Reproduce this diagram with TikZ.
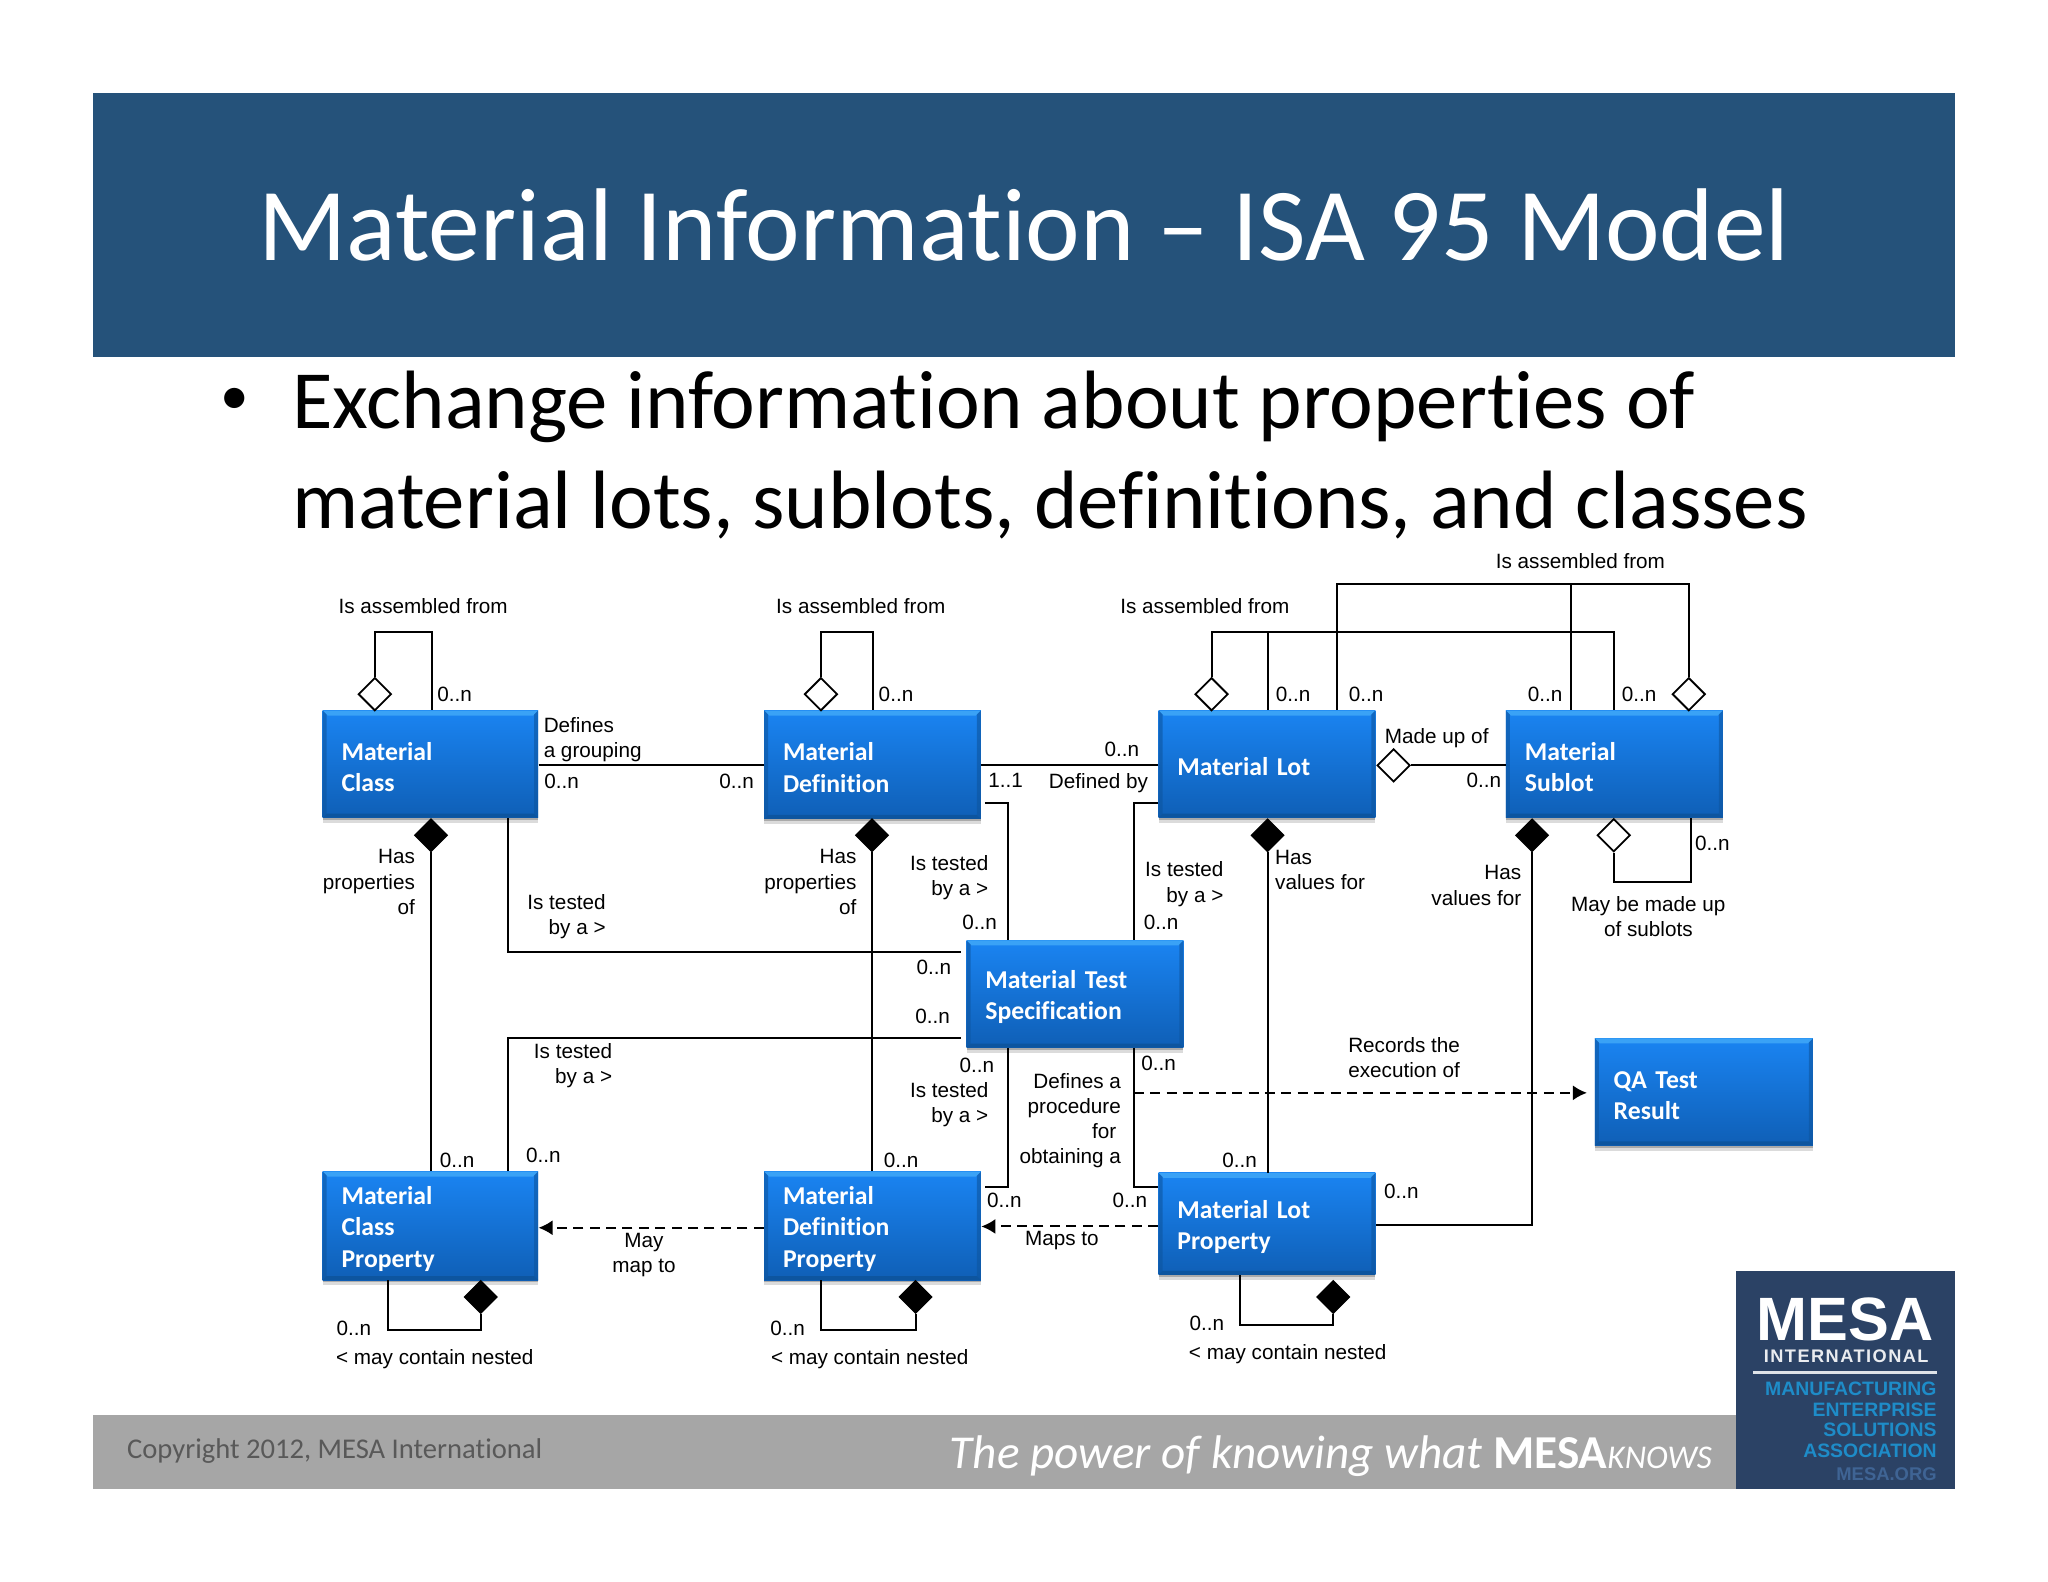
\documentclass[tikz,border=0pt]{standalone}
\usepackage{fontspec}
\setmainfont{Carlito}[Ligatures=NoCommon]
\newfontfamily\arial{Liberation Sans}
\newfontfamily\arialsp{Liberation Sans}[LetterSpace=8]
\usetikzlibrary{shapes.geometric,shadows,arrows.meta}
\definecolor{hdr}{HTML}{25527A}
\definecolor{boxtop}{HTML}{1A84F2}
\definecolor{boxbot}{HTML}{0F5FB6}
\definecolor{bevlight}{HTML}{3AA2F6}
\definecolor{bevdark}{HTML}{0D559F}
\definecolor{footgray}{HTML}{A6A6A6}
\definecolor{footdark}{HTML}{595959}
\definecolor{logobg}{HTML}{2B4265}
\definecolor{logoteal}{HTML}{1E8CC8}
\definecolor{logoblue}{HTML}{3F6494}
\tikzset{
  x=0.653pt,y=-0.653pt,
  matbox/.style n args={2}{
    minimum width={#1*0.653pt},minimum height={#2*0.653pt},
    text width={(#1-29)*0.653pt},inner xsep={14.5*0.653pt},inner ysep=0pt,
    align=left,text=white,font=\fontsize{12.85}{15.7}\selectfont\bfseries,
    execute at begin node={\rule{0pt}{12pt}},
    top color=boxtop,bottom color=boxbot,
    drop shadow={shadow xshift=0pt,shadow yshift=-1.2pt,opacity=0.22,fill=black},
    drop shadow={shadow xshift=0pt,shadow yshift=-2.6pt,opacity=0.14,fill=black},
    path picture={
      \fill[bevlight] (path picture bounding box.north west)--(path picture bounding box.north east)
        --([xshift=-2.5pt,yshift=-2.5pt]path picture bounding box.north east)
        --([xshift=2.5pt,yshift=-2.5pt]path picture bounding box.north west)--cycle;
      \fill[bevdark] (path picture bounding box.south west)--(path picture bounding box.south east)
        --([xshift=-2pt,yshift=2pt]path picture bounding box.south east)
        --([xshift=2pt,yshift=2pt]path picture bounding box.south west)--cycle;
      \fill[bevdark,opacity=0.6] (path picture bounding box.south west)--(path picture bounding box.north west)
        --([xshift=2pt,yshift=-2pt]path picture bounding box.north west)
        --([xshift=2pt,yshift=2pt]path picture bounding box.south west)--cycle;
      \fill[bevdark,opacity=0.6] (path picture bounding box.south east)--(path picture bounding box.north east)
        --([xshift=-2pt,yshift=-2pt]path picture bounding box.north east)
        --([xshift=-2pt,yshift=2pt]path picture bounding box.south east)--cycle;
    }},
  lab/.style={font=\fontsize{10.35}{12.6}\selectfont\arial,inner sep=0pt,text=black,align=center,yshift=-0.25pt},
  labr/.style={lab,align=right,anchor=east},
  labl/.style={lab,align=left,anchor=west},
  conn/.style={draw=black,line width=1pt},
  dashconn/.style={conn,dash pattern=on 5pt off 3.2pt,-{Latex[length=7pt,width=7.5pt]}},
  opend/.style={diamond,aspect=1,draw=black,fill=white,line width=0.9pt,minimum width=16.5pt,minimum height=16.5pt,inner sep=0pt},
  filld/.style={diamond,aspect=1,draw=black,fill=black,line width=0.6pt,minimum width=16.5pt,minimum height=16.5pt,inner sep=0pt},
}
\begin{document}
\begin{tikzpicture}
\useasboundingbox (0,0) rectangle (1568,1211.2);
\fill[white] (0,0) rectangle (1568,1211.2);
% header
\node[fill=hdr,minimum width={1426*0.653pt},minimum height={202*0.653pt},inner sep=0pt] (hdrbar) at (784,172) {};
\node[text=white,font=\fontsize{51.7}{60}\selectfont,inner sep=0pt] (title) at (784,172.5) {Material Information – ISA 95 Model};
% bullet
\node[font=\fontsize{28.6}{32}\selectfont,inner sep=0pt,anchor=base] (bul) at (180,317.5) {•};
\node[font=\fontsize{41.4}{50}\selectfont,inner sep=0pt,anchor=base west] (line1) at (223.3,328) {Exchange information about properties of};
\node[font=\fontsize{41.4}{50}\selectfont,inner sep=0pt,anchor=base west] (line2) at (223.3,404.5) {material lots, sublots, definitions, and classes};
% footer
\node[fill=footgray,minimum width={1258*0.653pt},minimum height={57*0.653pt},inner sep=0pt] (footbar) at (700,1111.5) {};
\node[text=footdark,font=\fontsize{14.3}{16}\selectfont,inner sep=0pt,anchor=west] (copy) at (97,1111) {Copyright 2012, MESA International};
\node[text=white,font=\fontsize{23.6}{26}\selectfont\itshape,inner sep=0pt,anchor=east] (tag) at (1311,1114.5) {The power of knowing what {\upshape\bfseries MESA}{\fontsize{16.6}{18}\selectfont KNOWS}};
% logo
\node[fill=logobg,minimum width={168*0.653pt},minimum height={167*0.653pt},inner sep=0pt] (logo) at (1413,1056.5) {};
\node[text=white,font=\fontsize{30.6}{32}\selectfont\arial\bfseries,inner sep=0pt] (lmesa) at (1412.5,1010.5) {MESA};
\node[text=white!90!logobg,font=\fontsize{9.1}{10}\selectfont\arialsp\bfseries,inner sep=0pt] (lint) at (1413.5,1038.6) {INTERNATIONAL};
\node[fill=white!85!logobg,minimum width={141*0.653pt},minimum height={2.5*0.653pt},inner sep=0pt] (lrule) at (1412.5,1050.8) {};
\node[text=logoteal,font=\fontsize{9.7}{11}\selectfont\arial\bfseries,inner sep=0pt,anchor=east] (lm1) at (1483,1063.6) {MANUFACTURING};
\node[text=logoteal,font=\fontsize{9.7}{11}\selectfont\arial\bfseries,inner sep=0pt,anchor=east] (lm2) at (1483,1079) {ENTERPRISE};
\node[text=logoteal,font=\fontsize{9.7}{11}\selectfont\arial\bfseries,inner sep=0pt,anchor=east] (lm3) at (1483,1095) {SOLUTIONS};
\node[text=logoteal,font=\fontsize{9.7}{11}\selectfont\arial\bfseries,inner sep=0pt,anchor=east] (lm4) at (1483,1110.8) {ASSOCIATION};
\node[text=logoblue,font=\fontsize{9.2}{11}\selectfont\arial\bfseries,inner sep=0pt,anchor=east] (lm5) at (1483,1128.7) {MESA.ORG};
% boxes
\node[matbox={165}{82}] (mc) at (329.5,585) {Material\\Class};
\node[matbox={166}{83}] (md) at (668,585.5) {Material\\Definition};
\node[matbox={166}{82}] (ml) at (970,585) {Material Lot};
\node[matbox={166}{82}] (ms) at (1236,585) {Material\\Sublot};
\node[matbox={166}{82}] (ts) at (823,761) {Material Test\\Specification};
\node[matbox={167}{82}] (qa) at (1304.5,836) {QA Test\\Result};
\node[matbox={165}{83}] (mcp) at (329.5,938.5) {Material\\Class\\Property};
\node[matbox={166}{83}] (mdp) at (668,938.5) {Material\\Definition\\Property};
\node[matbox={166}{78}] (mlp) at (970,937) {Material Lot\\Property};
% diamonds
\node[opend] (dmc) at (287,531.5) {};
\node[opend] (dmd) at (628.5,531.5) {};
\node[opend] (dml) at (927.6,531.5) {};
\node[opend] (dms) at (1293,531.5) {};
\node[opend] (dlot) at (1067,586) {};
\node[opend] (dsub) at (1235.5,639.5) {};
\node[filld] (fmc) at (330,639.5) {};
\node[filld] (fmd) at (667.6,639.5) {};
\node[filld] (fml) at (970.5,639.5) {};
\node[filld] (fms) at (1173,639.5) {};
\node[filld] (fmcp) at (368,993) {};
\node[filld] (fmdp) at (701,993) {};
\node[filld] (fmlp) at (1020.8,993) {};
% free ends
\coordinate (t1) at (736,729);
\coordinate (t2) at (736,794.5);
\coordinate (t3) at (754,615);
\coordinate (t4) at (754,908.6);
% connectors
\draw[conn] (dmc.north) |- (330.4,484) -- (mc.north -| 330.4,0);
\draw[conn] (dmd.north) |- (668.7,484) -- (md.north -| 668.7,0);
\draw[conn] (dml.north) |- (1236,484) -- (ms.north -| 1236,0);
\draw[conn] (971,484) -- (ml.north -| 971,0);
\draw[conn] (dms.north) |- (1023.7,447.5) -- (ml.north -| 1023.7,0);
\draw[conn] (1203,447.5) -- (ms.north -| 1203,0);
\draw[conn] (mc.east |- 0,586) -- (md.west |- 0,586);
\draw[conn] (md.east |- 0,586) -- (ml.west |- 0,586);
\draw[conn] (dlot.east) -- (ms.west |- dlot.east);
\draw[conn] (fmc.south) -- (mcp.north -| fmc.south);
\draw[conn] (fmd.south) -- (mdp.north -| fmd.south);
\draw[conn] (fml.south) -- (mlp.north -| fml.south);
\draw[conn] (fms.south) |- (mlp.east |- 0,938);
\draw[conn] (dsub.south) |- (1295,675) -- (ms.south -| 1295,0);
\draw[conn] (mc.south -| 389,0) |- (t1);
\draw[conn] (mcp.north -| 389,0) |- (t2);
\draw[conn] (t3) -| (ts.north -| 772,0);
\draw[conn] (ml.west |- 0,615) -| (ts.north -| 868,0);
\draw[conn] (ts.south -| 772,0) |- (t4);
\draw[conn] (ts.south -| 868,0) |- (mlp.west |- 0,908.6);
\draw[dashconn] (868,836.7) -- (1215,836.7);
\draw[dashconn] (mdp.west |- 0,940) -- (mcp.east |- 0,940);
\draw[dashconn] (mlp.west |- 0,939) -- (mdp.east |- 0,939);
\draw[conn] (mcp.south -| 296.7,0) |- (368,1018) -- (fmcp.south);
\draw[conn] (mdp.south -| 628.7,0) |- (701,1018) -- (fmdp.south);
\draw[conn] (mlp.south -| 949.6,0) |- (1020.8,1014.6) -- (fmlp.south);
% labels
\node[lab] (a1) at (324,464) {Is assembled from};
\node[lab] (a2) at (659,464) {Is assembled from};
\node[lab] (a3) at (922.5,464) {Is assembled from};
\node[lab] (a4) at (1210,429) {Is assembled from};
\node[lab] (n1) at (348,531) {0..n};
\node[lab] (n2) at (686,531) {0..n};
\node[lab] (n3) at (990,531) {0..n};
\node[lab] (n4) at (1046,531) {0..n};
\node[lab] (n5) at (1183,531) {0..n};
\node[lab] (n6) at (1255,531) {0..n};
\node[labl] (b1) at (416,566) {Defines\\a grouping};
\node[lab] (n7) at (430,598) {0..n};
\node[lab] (n8) at (564,598) {0..n};
\node[lab] (o1) at (770,597) {1..1};
\node[lab] (n9) at (859,573) {0..n};
\node[lab] (b2) at (841,599) {Defined by};
\node[lab] (b3) at (1100,565) {Made up of};
\node[lab] (n10) at (1136,597) {0..n};
\node[labr] (c1) at (318,675) {Has\\properties\\of};
\node[labr] (c2) at (656,675) {Has\\properties\\of};
\node[labr] (c3) at (464,701.5) {Is tested\\by a >};
\node[labr] (c4) at (757,671.5) {Is tested\\by a >};
\node[labr] (c5) at (937,676.5) {Is tested\\by a >};
\node[lab] (n11) at (750,706) {0..n};
\node[lab] (n12) at (715,740) {0..n};
\node[lab] (n13) at (714,778) {0..n};
\node[lab] (n14) at (889,706) {0..n};
\node[labl] (c6) at (976,665.5) {Has\\values for};
\node[labr] (c7) at (1165,677.5) {Has\\values for};
\node[lab] (n15) at (1311,645) {0..n};
\node[lab] (c8) at (1262,701.5) {May be made up\\of sublots};
\node[labr] (c9) at (469,815.5) {Is tested\\by a >};
\node[lab] (n16) at (748,815) {0..n};
\node[lab] (n17) at (887,814) {0..n};
\node[labr] (c10) at (757,845.5) {Is tested\\by a >};
\node[labr] (c11) at (858.5,857.5) {Defines a\\procedure\\for\phantom{i}\\obtaining a};
\node[lab] (c12) at (1075,809.5) {Records the\\execution of};
\node[lab] (n18) at (350,888) {0..n};
\node[lab] (n19) at (416,884) {0..n};
\node[lab] (n20) at (690,888) {0..n};
\node[lab] (n21) at (949,888) {0..n};
\node[lab] (n22) at (769,919) {0..n};
\node[lab] (n23) at (865,919) {0..n};
\node[lab] (n24) at (1073,912) {0..n};
\node[lab] (c13) at (493,960.5) {May\\map to};
\node[lab] (c14) at (813,949) {Maps to};
\node[lab] (n25) at (271,1017) {0..n};
\node[lab] (n26) at (603,1017) {0..n};
\node[lab] (n27) at (924,1013) {0..n};
\node[labl] (c15) at (257,1040) {< may contain nested};
\node[labl] (c16) at (590,1040) {< may contain nested};
\node[labl] (c17) at (910,1036) {< may contain nested};
\end{tikzpicture}
\end{document}
